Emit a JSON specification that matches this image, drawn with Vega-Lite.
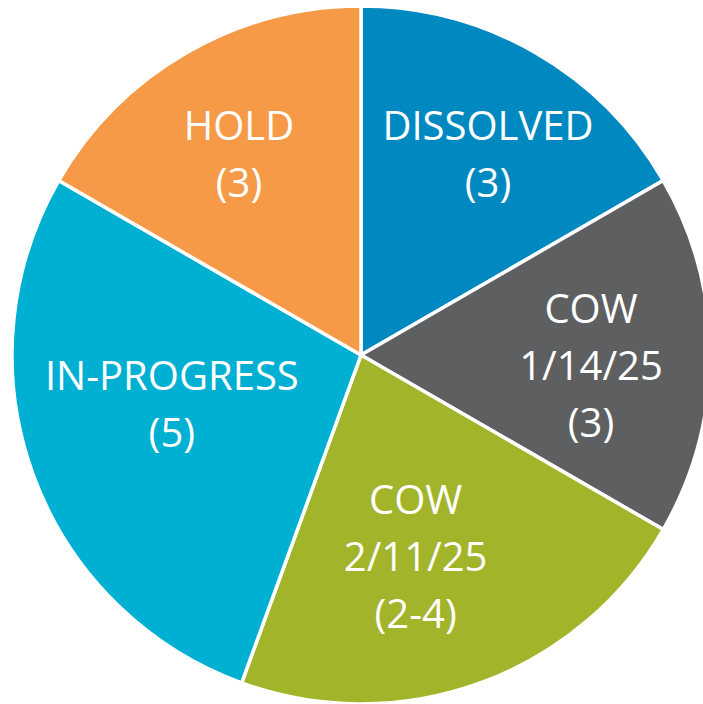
{
  "$schema": "https://vega.github.io/schema/vega-lite/v6.json",
  "width": 722,
  "height": 710,
  "autosize": {"type": "none"},
  "padding": {"left": 0, "top": 0, "right": -19, "bottom": -6},
  "background": "white",
  "view": {"stroke": null},
  "data": {
    "values": [
      {"key": "DISSOLVED", "label": "DISSOLVED\n(3)", "value": 3},
      {"key": "COW1", "label": "COW\n1/14/25\n(3)", "value": 3},
      {"key": "COW2", "label": "COW\n2/11/25\n(2-4)", "value": 4},
      {"key": "INPROGRESS", "label": "IN-PROGRESS\n(5)", "value": 5},
      {"key": "HOLD", "label": "HOLD\n(3)", "value": 3}
    ]
  },
  "encoding": {
    "theta": {"field": "value", "type": "quantitative", "stack": true},
    "order": {"field": "order_idx", "type": "quantitative"}
  },
  "transform": [
    {"window": [{"op": "row_number", "as": "order_idx"}]}
  ],
  "layer": [
    {
      "mark": {"type": "arc", "radius": 349, "stroke": "white", "strokeWidth": 3.5},
      "encoding": {
        "color": {
          "field": "key",
          "type": "nominal",
          "sort": null,
          "scale": {
            "domain": ["DISSOLVED", "COW1", "COW2", "INPROGRESS", "HOLD"],
            "range": ["#0089C1", "#5E5F61", "#A2B42A", "#00B0D3", "#F79A48"]
          },
          "legend": null
        }
      }
    },
    {
      "mark": {
        "type": "text",
        "font": "Open Sans",
        "fontSize": 40,
        "lineHeight": 57,
        "lineBreak": "\n",
        "color": "white",
        "align": "center",
        "baseline": "middle",
        "radius": {"expr": "datum.key == 'DISSOLVED' ? 237 : datum.key == 'COW1' ? 230 : datum.key == 'COW2' ? 208 : datum.key == 'INPROGRESS' ? 196 : 235"},
        "dx": {"expr": "datum.key == 'DISSOLVED' ? 8.5 : datum.key == 'COW1' ? 0 : datum.key == 'COW2' ? -16.5 : datum.key == 'INPROGRESS' ? -5 : -4.5"},
        "dy": {"expr": "datum.key == 'DISSOLVED' ? -21.3 : datum.key == 'COW1' ? -44 : datum.key == 'COW2' ? -48.5 : datum.key == 'INPROGRESS' ? -44 : -23"}
      },
      "encoding": {
        "text": {"field": "label", "type": "nominal"}
      }
    }
  ]
}
